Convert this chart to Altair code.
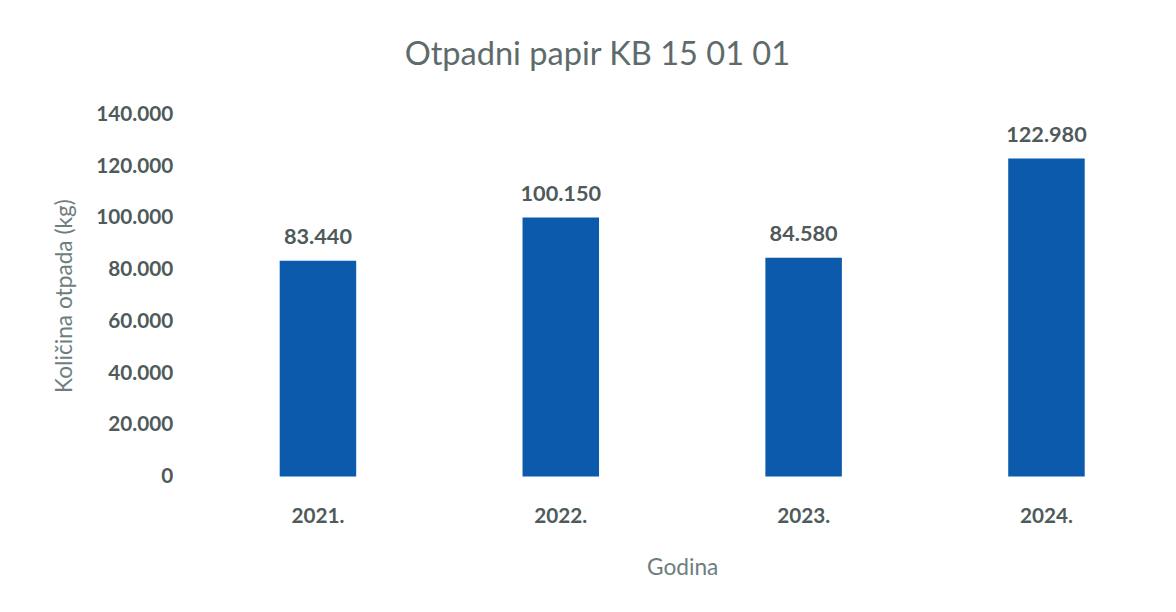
import altair as alt
import pandas as pd

years = ["2021.", "2022.", "2023.", "2024."]
values = [83440, 100150, 84580, 122980]
labels = ["83.440", "100.150", "84.580", "122.980"]
y_ticks = [0, 20000, 40000, 60000, 80000, 100000, 120000, 140000]

df = pd.DataFrame({"Godina": years, "Kolicina": values, "Oznaka": labels})

FONT = "Lato"
LABEL_COLOR = "#4f5a5a"
TITLE_COLOR = "#6e7e7e"

base = alt.Chart(df)

bars = base.mark_bar(color="#0b5aab").encode(
    x=alt.X("Godina:N", sort=years,
            scale=alt.Scale(paddingInner=0.685, paddingOuter=0.343),
            axis=alt.Axis(title="Godina", labelAngle=0, domain=False, ticks=False,
                          labelPadding=30, titlePadding=30, labelFontSize=21,
                          labelFontWeight="bold", labelColor=LABEL_COLOR,
                          titleFontSize=23, titleFontWeight="normal",
                          titleColor=TITLE_COLOR, labelFont=FONT, titleFont=FONT)),
    y=alt.Y("Kolicina:Q",
            scale=alt.Scale(domain=[0, 140000], nice=False),
            axis=alt.Axis(title="Količina otpada (kg)", values=y_ticks,
                          labelExpr="replace(format(datum.value, ',d'), ',', '.')",
                          domain=False, ticks=False, grid=False, labelPadding=24,
                          titlePadding=20, labelFontSize=21, labelFontWeight="bold",
                          labelColor=LABEL_COLOR, titleFontSize=23,
                          titleFontWeight="normal", titleColor=TITLE_COLOR,
                          labelFont=FONT, titleFont=FONT)),
)

text = base.mark_text(dy=-12, baseline="bottom", fontSize=22, fontWeight="bold",
                      color=LABEL_COLOR, font=FONT).encode(
    x=alt.X("Godina:N", sort=years),
    y="Kolicina:Q",
    text="Oznaka:N",
)

chart = (bars + text).properties(
    width=985,
    height=367,
    padding={"left": 191, "top": 104, "right": 0, "bottom": 110},
    autosize=alt.AutoSizeParams(type="none"),
    title=alt.TitleParams("Otpadni papir KB 15 01 01", fontSize=33,
                          fontWeight="normal", color="#5e6b6b", font=FONT,
                          offset=32, dx=-86),
).configure_view(stroke=None)

chart.save("out.html", embed_options={"renderer": "svg", "actions": False})
